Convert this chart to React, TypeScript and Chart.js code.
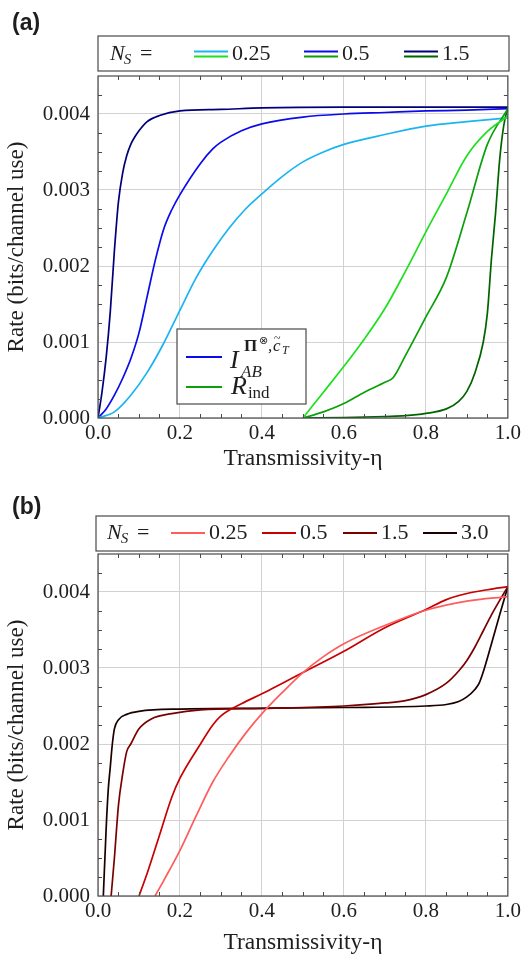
import React, { useEffect, useRef } from "react";
import { Chart, registerables } from "chart.js";

Chart.register(...registerables);

// ---------- Panel (a): I_AB (blue family) ----------
const etaA_I025 = [0, 0.04, 0.08, 0.12, 0.16, 0.2, 0.24, 0.28, 0.32, 0.36, 0.4, 0.45, 0.5, 0.55, 0.6, 0.7, 0.8, 0.9, 1.0];
const rateA_I025 = [0, 0.00008, 0.0003, 0.0006, 0.00098, 0.00142, 0.00185, 0.0022, 0.0025, 0.00275, 0.00295, 0.00318, 0.00337, 0.0035, 0.0036, 0.00373, 0.00384, 0.0039, 0.00395];

const etaA_I05 = [0, 0.02, 0.04, 0.06, 0.08, 0.1, 0.12, 0.14, 0.16, 0.18, 0.2, 0.25, 0.28, 0.3, 0.35, 0.4, 0.5, 0.6, 0.7, 0.8, 0.9, 1.0];
const rateA_I05 = [0, 0.00012, 0.0003, 0.00052, 0.00078, 0.00112, 0.0016, 0.00208, 0.00248, 0.00274, 0.00294, 0.00335, 0.00354, 0.00363, 0.00378, 0.00387, 0.00396, 0.004, 0.00402, 0.00404, 0.00405, 0.00407];

const etaA_I15 = [0, 0.01, 0.02, 0.03, 0.04, 0.05, 0.06, 0.07, 0.08, 0.09, 0.1, 0.12, 0.15, 0.2, 0.3, 0.4, 0.6, 0.8, 1.0];
const rateA_I15 = [0, 0.00035, 0.0008, 0.0014, 0.0022, 0.00285, 0.00322, 0.00345, 0.0036, 0.0037, 0.00378, 0.0039, 0.00398, 0.00404, 0.00406, 0.00408, 0.00409, 0.00409, 0.00409];

// ---------- Panel (a): R_ind (green family) ----------
const etaA_R025 = [0.5, 0.55, 0.6, 0.65, 0.7, 0.75, 0.8, 0.85, 0.9, 0.95, 1.0];
const rateA_R025 = [0, 0.00034, 0.00068, 0.00104, 0.00144, 0.00193, 0.00245, 0.00295, 0.00345, 0.00377, 0.00397];

const etaA_R05 = [0.5, 0.55, 0.6, 0.65, 0.7, 0.72, 0.75, 0.8, 0.85, 0.9, 0.95, 1.0];
const rateA_R05 = [0, 0.00008, 0.00019, 0.00034, 0.00047, 0.00053, 0.00082, 0.00133, 0.00185, 0.0027, 0.0036, 0.00407];

const etaA_R15 = [0.5, 0.6, 0.7, 0.75, 0.8, 0.85, 0.88, 0.9, 0.92, 0.94, 0.95, 0.96, 0.97, 0.98, 0.99, 1.0];
const rateA_R15 = [0, 0.000005, 0.00002, 0.00003, 0.00006, 0.00012, 0.00022, 0.00035, 0.0006, 0.001, 0.00138, 0.0021, 0.0027, 0.0034, 0.00385, 0.00409];

// ---------- Panel (b) ----------
const etaB_025 = [0.139, 0.16, 0.2, 0.24, 0.28, 0.32, 0.36, 0.4, 0.45, 0.5, 0.55, 0.6, 0.7, 0.8, 0.9, 1.0];
const rateB_025 = [0, 0.0002, 0.0006, 0.00106, 0.0015, 0.00184, 0.00214, 0.0024, 0.00268, 0.00294, 0.00315, 0.00332, 0.00356, 0.00376, 0.00388, 0.00394];

const etaB_05 = [0.1, 0.12, 0.15, 0.18, 0.2, 0.25, 0.28, 0.3, 0.35, 0.4, 0.45, 0.5, 0.6, 0.7, 0.8, 0.85, 0.9, 0.95, 1.0];
const rateB_05 = [0, 0.0003, 0.0008, 0.0013, 0.00155, 0.002, 0.00225, 0.00237, 0.00253, 0.00266, 0.0028, 0.00294, 0.00322, 0.00353, 0.00377, 0.0039, 0.00398, 0.00403, 0.00407];

const etaB_15 = [0.032, 0.04, 0.05, 0.06, 0.07, 0.08, 0.1, 0.13, 0.18, 0.25, 0.4, 0.6, 0.7, 0.75, 0.8, 0.85, 0.88, 0.9, 0.92, 0.94, 0.96, 0.98, 1.0];
const rateB_15 = [0, 0.0005, 0.0012, 0.0016, 0.0019, 0.002, 0.0022, 0.00233, 0.0024, 0.00245, 0.00247, 0.0025, 0.00254, 0.00257, 0.00265, 0.0028, 0.00296, 0.0031, 0.00328, 0.00349, 0.0037, 0.00389, 0.00407];

const etaB_30 = [0.013, 0.02, 0.025, 0.03, 0.035, 0.04, 0.05, 0.07, 0.1, 0.2, 0.4, 0.6, 0.8, 0.85, 0.88, 0.9, 0.92, 0.93, 0.94, 0.96, 0.98, 1.0];
const rateB_30 = [0, 0.0009, 0.0014, 0.0017, 0.002, 0.0022, 0.00232, 0.00239, 0.00243, 0.00246, 0.00247, 0.00248, 0.0025, 0.00252, 0.00256, 0.00262, 0.00272, 0.0028, 0.00295, 0.00332, 0.0037, 0.00407];

const nsLabelsA = ["0.25", "0.5", "1.5"];
const nsLabelsB = ["0.25", "0.5", "1.5", "3.0"];

const blueColors = ["#1ab4f2", "#0a0aeb", "#00007a"];
const greenColors = ["#1ee01e", "#0aa00a", "#006400"];
const redColors = ["#ff5c5c", "#c80000", "#7a0000", "#1a0000"];

const SERIF = "'Liberation Serif', 'Times New Roman', serif";
const TEXT = "#1e1e1e";

function pts(eta: number[], rate: number[]) {
  return eta.map((x, i) => ({ x, y: rate[i] }));
}

function ds(eta: number[], rate: number[], color: string) {
  return {
    data: pts(eta, rate),
    borderColor: color,
    backgroundColor: color,
    borderWidth: 1.7,
    pointRadius: 0,
    fill: false,
    cubicInterpolationMode: "monotone" as const,
  };
}

function frameAndTicks(chart: any) {
  const { ctx, chartArea: a, scales } = chart;
  const xs = scales.x;
  const ys = scales.y;
  ctx.save();
  ctx.strokeStyle = "#4a4a4a";
  ctx.lineWidth = 1;
  ctx.beginPath();
  for (let i = 1; i < 20; i++) {
    if (i % 4 === 0) continue;
    const px = Math.round(xs.getPixelForValue(i * 0.05)) + 0.5;
    ctx.moveTo(px, a.bottom);
    ctx.lineTo(px, a.bottom - 4);
    ctx.moveTo(px, a.top);
    ctx.lineTo(px, a.top + 4);
  }
  for (let i = 1; i < 18; i++) {
    if (i % 4 === 0) continue;
    const py = Math.round(ys.getPixelForValue(i * 0.00025)) + 0.5;
    ctx.moveTo(a.left, py);
    ctx.lineTo(a.left + 4, py);
    ctx.moveTo(a.right, py);
    ctx.lineTo(a.right - 4, py);
  }
  ctx.stroke();
  ctx.lineWidth = 1.2;
  ctx.strokeRect(a.left, a.top, a.right - a.left, a.bottom - a.top);
  ctx.restore();
}

function drawNs(ctx: CanvasRenderingContext2D, x: number, baseline: number) {
  ctx.fillStyle = TEXT;
  ctx.textBaseline = "alphabetic";
  ctx.textAlign = "left";
  ctx.font = `italic 22px ${SERIF}`;
  ctx.fillText("N", x, baseline);
  const wN = ctx.measureText("N").width;
  ctx.font = `italic 15px ${SERIF}`;
  ctx.fillText("S", x + wN - 1, baseline + 4);
  ctx.font = `22px ${SERIF}`;
  ctx.fillText("=", x + 30, baseline);
}

function drawLegendA(chart: any) {
  const ctx: CanvasRenderingContext2D = chart.ctx;
  ctx.save();
  ctx.fillStyle = "#fff";
  ctx.fillRect(98, 36, 411, 35);
  ctx.strokeStyle = "#4a4a4a";
  ctx.lineWidth = 1.2;
  ctx.strokeRect(98, 36, 411, 35);
  drawNs(ctx, 110, 60);
  const starts = [194, 304, 404];
  ctx.lineWidth = 2;
  starts.forEach((sx, i) => {
    ctx.strokeStyle = blueColors[i];
    ctx.beginPath();
    ctx.moveTo(sx, 51.5);
    ctx.lineTo(sx + 34, 51.5);
    ctx.stroke();
    ctx.strokeStyle = greenColors[i];
    ctx.beginPath();
    ctx.moveTo(sx, 56.5);
    ctx.lineTo(sx + 34, 56.5);
    ctx.stroke();
    ctx.fillStyle = TEXT;
    ctx.font = `22px ${SERIF}`;
    ctx.textBaseline = "alphabetic";
    ctx.fillText(nsLabelsA[i], sx + 38, 60);
  });

  // inner legend
  ctx.fillStyle = "#fff";
  ctx.fillRect(177, 329, 129, 75);
  ctx.strokeStyle = "#4a4a4a";
  ctx.lineWidth = 1.2;
  ctx.strokeRect(177, 329, 129, 75);
  ctx.lineWidth = 2;
  ctx.strokeStyle = blueColors[1];
  ctx.beginPath();
  ctx.moveTo(186, 357);
  ctx.lineTo(222, 357);
  ctx.stroke();
  ctx.strokeStyle = greenColors[1];
  ctx.beginPath();
  ctx.moveTo(186, 387);
  ctx.lineTo(222, 387);
  ctx.stroke();

  ctx.fillStyle = TEXT;
  ctx.textBaseline = "alphabetic";
  ctx.font = `italic 26px ${SERIF}`;
  ctx.fillText("I", 230, 368);
  ctx.font = `italic 17px ${SERIF}`;
  ctx.fillText("AB", 241, 377);
  ctx.font = `bold 17px ${SERIF}`;
  ctx.fillText("\u03A0", 244, 351);
  ctx.font = `11px 'DejaVu Sans', sans-serif`;
  ctx.fillText("\u2297", 259, 344);
  ctx.font = `italic 17px ${SERIF}`;
  ctx.fillText(",", 268, 351);
  ctx.fillText("c", 273, 351);
  ctx.font = `12px ${SERIF}`;
  ctx.fillText("~", 274, 342);
  ctx.font = `italic 12px ${SERIF}`;
  ctx.fillText("T", 282, 354);

  ctx.font = `italic 26px ${SERIF}`;
  ctx.fillText("R", 231, 394);
  const wR = ctx.measureText("R").width;
  ctx.font = `17px ${SERIF}`;
  ctx.fillText("ind", 231 + wR + 1, 398);

  ctx.font = `bold 23px 'Liberation Sans', Arial, sans-serif`;
  ctx.fillText("(a)", 12, 30);
  ctx.restore();
}

function drawLegendB(chart: any) {
  const ctx: CanvasRenderingContext2D = chart.ctx;
  ctx.save();
  ctx.fillStyle = "#fff";
  ctx.fillRect(96, 36, 413, 35);
  ctx.strokeStyle = "#4a4a4a";
  ctx.lineWidth = 1.2;
  ctx.strokeRect(96, 36, 413, 35);
  drawNs(ctx, 107, 59);
  const starts = [171, 262, 343, 423];
  ctx.lineWidth = 2;
  starts.forEach((sx, i) => {
    ctx.strokeStyle = redColors[i];
    ctx.beginPath();
    ctx.moveTo(sx, 53);
    ctx.lineTo(sx + 34, 53);
    ctx.stroke();
    ctx.fillStyle = TEXT;
    ctx.font = `22px ${SERIF}`;
    ctx.textBaseline = "alphabetic";
    ctx.fillText(nsLabelsB[i], sx + 38, 59);
  });
  ctx.fillStyle = TEXT;
  ctx.font = `bold 23px 'Liberation Sans', Arial, sans-serif`;
  ctx.fillText("(b)", 12, 34);
  ctx.restore();
}

function makeOptions(top: number, xHeight: number, xTitlePad: number, decor: (c: any) => void) {
  return {
    animation: false as const,
    responsive: false,
    events: [] as any[],
    layout: { padding: { top, right: 15, left: 0, bottom: 0 } },
    plugins: {
      legend: { display: false },
      tooltip: { enabled: false },
      decor: { draw: decor },
    },
    scales: {
      x: {
        type: "linear" as const,
        min: 0,
        max: 1,
        ticks: {
          stepSize: 0.2,
          includeBounds: false,
          autoSkip: false,
          maxRotation: 0,
          padding: 3,
          color: TEXT,
          font: { family: SERIF, size: 21 },
          callback: (v: any) => Number(v).toFixed(1),
        },
        grid: { color: "#d2d2d2", lineWidth: 1, drawTicks: false },
        border: { display: false },
        title: {
          display: true,
          text: "Transmissivity-\u03B7",
          color: TEXT,
          font: { family: SERIF, size: 23.5 },
          padding: { top: 0, bottom: xTitlePad },
        },
        afterFit: (s: any) => {
          s.height = xHeight;
        },
      },
      y: {
        type: "linear" as const,
        min: 0,
        max: 0.0045,
        ticks: {
          stepSize: 0.001,
          includeBounds: false,
          autoSkip: false,
          padding: 8,
          color: TEXT,
          font: { family: SERIF, size: 21 },
          callback: (v: any) => Number(v).toFixed(3),
        },
        grid: { color: "#d2d2d2", lineWidth: 1, drawTicks: false },
        border: { display: false },
        title: {
          display: true,
          text: "Rate (bits/channel use)",
          color: TEXT,
          font: { family: SERIF, size: 23 },
          padding: { top: 3, bottom: 0 },
        },
        afterFit: (s: any) => {
          s.width = 98;
        },
      },
    },
  };
}

const decorPlugin = {
  id: "decor",
  afterDatasetsDraw(chart: any) {
    frameAndTicks(chart);
  },
  afterDraw(chart: any, _args: any, opts: any) {
    if (opts && opts.draw) opts.draw(chart);
  },
};

export default function App() {
  const refA = useRef<HTMLCanvasElement>(null);
  const refB = useRef<HTMLCanvasElement>(null);

  useEffect(() => {
    const chartA = new Chart(refA.current as HTMLCanvasElement, {
      type: "line",
      data: {
        datasets: [
          ds(etaA_R025, rateA_R025, greenColors[0]),
          ds(etaA_R05, rateA_R05, greenColors[1]),
          ds(etaA_R15, rateA_R15, greenColors[2]),
          ds(etaA_I025, rateA_I025, blueColors[0]),
          ds(etaA_I05, rateA_I05, blueColors[1]),
          ds(etaA_I15, rateA_I15, blueColors[2]),
        ],
      },
      options: makeOptions(76, 62, 7, drawLegendA) as any,
      plugins: [decorPlugin],
    });
    const chartB = new Chart(refB.current as HTMLCanvasElement, {
      type: "line",
      data: {
        datasets: [
          ds(etaB_025, rateB_025, redColors[0]),
          ds(etaB_05, rateB_05, redColors[1]),
          ds(etaB_15, rateB_15, redColors[2]),
          ds(etaB_30, rateB_30, redColors[3]),
        ],
      },
      options: makeOptions(74, 67, 6, drawLegendB) as any,
      plugins: [decorPlugin],
    });
    return () => {
      chartA.destroy();
      chartB.destroy();
    };
  }, []);

  return (
    <div style={{ position: "fixed", left: 0, top: 0, width: 524, height: 963, background: "#fff" }}>
      <canvas ref={refA} width={524} height={480} style={{ position: "absolute", left: 0, top: 0, width: 524, height: 480 }} />
      <canvas ref={refB} width={524} height={483} style={{ position: "absolute", left: 0, top: 480, width: 524, height: 483 }} />
    </div>
  );
}
